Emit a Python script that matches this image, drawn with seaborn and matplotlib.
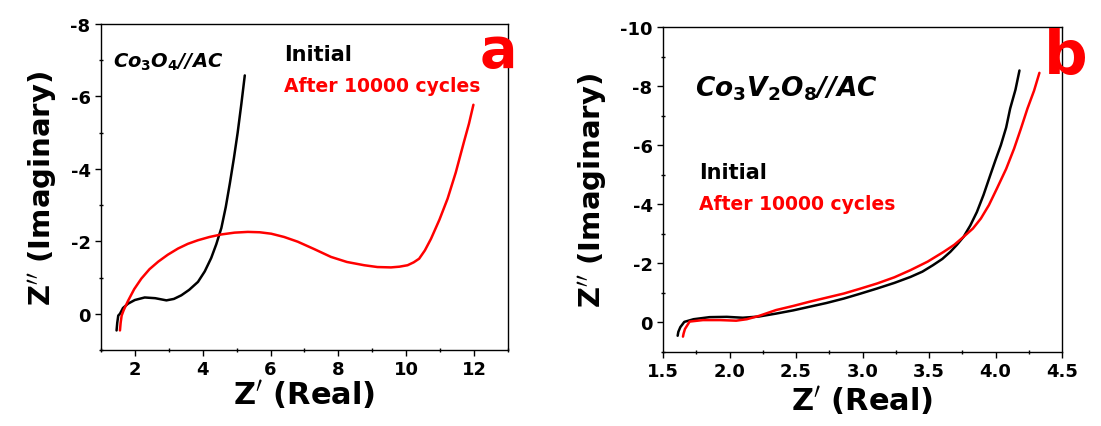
import numpy as np
import pandas as pd
import seaborn as sns
import matplotlib.pyplot as plt
from matplotlib.ticker import MultipleLocator

# panel a : Co3O4//AC
a_init_x = [1.46, 1.48, 1.51, 1.56, 1.65, 1.8, 2.0, 2.29, 2.6, 2.93, 3.15, 3.37, 3.6, 3.86, 4.06, 4.25, 4.4, 4.55, 4.68, 4.8, 4.92, 5.03, 5.14, 5.24]
a_init_y = [0.46, 0.25, 0.05, 0.0, -0.16, -0.28, -0.38, -0.45, -0.43, -0.37, -0.41, -0.51, -0.66, -0.88, -1.17, -1.54, -1.92, -2.37, -2.95, -3.6, -4.3, -5.0, -5.8, -6.58]
a_aft_x = [1.56, 1.58, 1.61, 1.67, 1.8, 1.98, 2.19, 2.43, 2.69, 2.97, 3.27, 3.56, 3.86, 4.2, 4.55, 4.94, 5.33, 5.68, 6.02, 6.4, 6.8, 7.3, 7.78, 8.25, 8.76, 9.15, 9.55, 9.8, 10.04, 10.22, 10.38, 10.55, 10.73, 10.98, 11.22, 11.46, 11.7, 11.85, 11.98]
a_aft_y = [0.46, 0.25, 0.05, -0.1, -0.36, -0.68, -0.97, -1.23, -1.44, -1.63, -1.8, -1.93, -2.03, -2.12, -2.19, -2.24, -2.26, -2.25, -2.21, -2.12, -1.99, -1.78, -1.57, -1.43, -1.34, -1.29, -1.28, -1.3, -1.34, -1.42, -1.52, -1.75, -2.07, -2.6, -3.18, -3.9, -4.74, -5.25, -5.77]

# panel b : Co3V2O8//AC
b_init_x = [1.61, 1.615, 1.63, 1.66, 1.73, 1.85, 1.98, 2.1, 2.22, 2.35, 2.48, 2.6, 2.73, 2.86, 2.98, 3.11, 3.24, 3.36, 3.45, 3.53, 3.6, 3.66, 3.71, 3.76, 3.81, 3.86, 3.91, 3.96, 4.0, 4.04, 4.08, 4.11, 4.15, 4.18]
b_init_y = [0.45, 0.32, 0.16, -0.02, -0.11, -0.18, -0.19, -0.16, -0.2, -0.3, -0.41, -0.53, -0.66, -0.81, -0.97, -1.15, -1.34, -1.54, -1.72, -1.94, -2.15, -2.39, -2.63, -2.9, -3.28, -3.74, -4.32, -4.98, -5.5, -6.0, -6.6, -7.24, -7.88, -8.53]
b_aft_x = [1.65, 1.655, 1.665, 1.7, 1.8, 1.93, 2.05, 2.13, 2.22, 2.35, 2.48, 2.6, 2.73, 2.86, 2.98, 3.11, 3.24, 3.36, 3.49, 3.61, 3.69, 3.76, 3.83, 3.89, 3.95, 4.01, 4.08, 4.14, 4.19, 4.24, 4.29, 4.33]
b_aft_y = [0.48, 0.37, 0.22, -0.03, -0.08, -0.08, -0.06, -0.11, -0.22, -0.42, -0.56, -0.7, -0.84, -0.98, -1.14, -1.32, -1.53, -1.77, -2.06, -2.39, -2.63, -2.9, -3.18, -3.52, -3.97, -4.53, -5.2, -5.89, -6.55, -7.24, -7.85, -8.45]

series = ["Initial", "After 10000 cycles"]
colors = {"Initial": "black", "After 10000 cycles": "#ff0000"}

def frame(xi, yi, xa, ya):
    d1 = pd.DataFrame({"x": xi, "y": yi, "s": series[0]})
    d2 = pd.DataFrame({"x": xa, "y": ya, "s": series[1]})
    return pd.concat([d1, d2], ignore_index=True)

df_a = frame(a_init_x, a_init_y, a_aft_x, a_aft_y)
df_b = frame(b_init_x, b_init_y, b_aft_x, b_aft_y)

sns.set_style("ticks")
plt.rcParams['font.family'] = ['DejaVu Sans']
plt.rcParams['font.weight'] = 'bold'
plt.rcParams['text.color'] = 'black'
plt.rcParams['axes.labelcolor'] = 'black'
plt.rcParams['xtick.color'] = 'black'
plt.rcParams['ytick.color'] = 'black'
plt.rcParams['axes.edgecolor'] = 'black'
plt.rcParams['axes.unicode_minus'] = False

fig = plt.figure(figsize=(11.01, 4.27), dpi=100)
ax1 = fig.add_axes([0.0917, 0.178, 0.3697, 0.7635])
ax2 = fig.add_axes([0.6022, 0.1733, 0.3624, 0.761])

for ax, df in [(ax1, df_a), (ax2, df_b)]:
    sns.lineplot(data=df, x="x", y="y", hue="s", palette=colors, sort=False,
                 estimator=None, lw=1.8, legend=False, ax=ax)
    for sp in ax.spines.values():
        sp.set_visible(True)
        sp.set_linewidth(1.0)
    ax.tick_params(which="major", direction="out", length=4, width=1, labelsize=13)
    ax.tick_params(which="minor", direction="inout", length=3, width=1)
    ax.set_ylabel("Z$''$ (Imaginary)", fontsize=21, fontweight="bold", labelpad=8)

ax1.set_xlabel("Z$'$ (Real)", fontsize=22, fontweight="bold", labelpad=-1)
ax2.set_xlabel("Z$'$ (Real)", fontsize=22, fontweight="bold", labelpad=2)

ax1.set_xlim(1, 13)
ax1.set_ylim(1, -8)
ax1.xaxis.set_major_locator(MultipleLocator(2))
ax1.xaxis.set_minor_locator(MultipleLocator(1))
ax1.yaxis.set_major_locator(MultipleLocator(2))
ax1.yaxis.set_minor_locator(MultipleLocator(1))

ax2.set_xlim(1.5, 4.5)
ax2.set_ylim(1, -10)
ax2.xaxis.set_minor_locator(MultipleLocator(0.25))
ax2.yaxis.set_major_locator(MultipleLocator(2))
ax2.yaxis.set_minor_locator(MultipleLocator(1))
ax2.set_xticks(np.arange(1.5, 4.51, 0.5))
ax2.set_xticklabels(["1.5", "2.0", "2.5", "3.0", "3.5", "4.0", "4.5"])

# annotations
ax1.text(0.03, 0.87, "Co$_3$O$_4$//AC", transform=ax1.transAxes, fontsize=14,
         fontstyle="italic", fontweight="bold")
ax1.text(0.45, 0.89, "Initial", transform=ax1.transAxes, fontsize=15, color="black")
ax1.text(0.45, 0.795, "After 10000 cycles", transform=ax1.transAxes, fontsize=13.5, color="#ff0000")
ax1.text(0.93, 0.87, "a", transform=ax1.transAxes, fontsize=40, color="#ff0000",
         fontweight="bold", clip_on=False)

ax2.text(0.08, 0.79, "Co$_3$V$_2$O$_8$//AC", transform=ax2.transAxes, fontsize=19,
         fontstyle="italic", fontweight="bold")
ax2.text(0.09, 0.535, "Initial", transform=ax2.transAxes, fontsize=15, color="black")
ax2.text(0.09, 0.44, "After 10000 cycles", transform=ax2.transAxes, fontsize=13.5, color="#ff0000")
ax2.text(0.955, 0.86, "b", transform=ax2.transAxes, fontsize=44, color="#ff0000",
         fontweight="bold", clip_on=False)

plt.savefig("out.png", dpi=100)
